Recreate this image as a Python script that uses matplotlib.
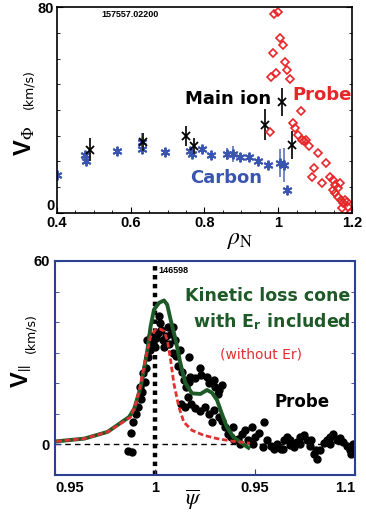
import numpy as np
import matplotlib
matplotlib.use("Agg")
from matplotlib import pyplot as plt

plt.rcParams["font.family"] = ["Liberation Sans", "DejaVu Sans"]
plt.rcParams["mathtext.fontset"] = "stix"

# ---- top panel: toroidal rotation vs rho ----
carbon_rho = [0.399, 0.476, 0.480, 0.562, 0.630, 0.630, 0.693, 0.761, 0.765, 0.792,
              0.819, 0.860, 0.878, 0.896, 0.922, 0.946, 0.973, 1.005, 1.016, 1.023]
carbon_v = [14.8, 22.5, 20.2, 24.2, 24.7, 27.7, 23.8, 24.2, 22.9, 24.9,
            22.5, 22.9, 22.9, 21.9, 21.6, 20.2, 18.6, 19.3, 18.6, 8.9]
carbon_err = [0, 0, 0, 0, 0, 3.2, 0, 0, 0, 0,
              0, 2.5, 3.2, 0, 0, 0, 0, 5.5, 6.5, 0]

ion_rho = [0.489, 0.634, 0.750, 0.772, 0.964, 1.009, 1.038]
ion_v = [24.5, 27.7, 29.9, 26.1, 34.2, 43.0, 26.4]
ion_err = [4.5, 3.5, 4.0, 3.0, 6.0, 5.5, 5.5]

probe_rho = [0.988, 1.000, 1.005, 1.012, 0.985, 1.018, 1.025, 0.980, 0.994, 1.032,
             1.061, 1.039, 1.045, 0.978, 1.054, 1.064, 1.070, 1.075, 1.083, 1.109,
             1.129, 1.098, 1.091, 1.118, 1.140, 1.148, 1.154, 1.167, 1.149, 1.154,
             1.163, 1.169, 1.176, 1.186, 1.190, 1.174, 1.195, 1.181, 1.161]
probe_v = [77.2, 77.9, 67.8, 65.2, 62.3, 58.8, 55.5, 52.9, 54.2, 51.9,
           39.6, 34.8, 33.1, 31.6, 30.3, 28.3, 28.1, 28.3, 26.1, 23.4,
           19.5, 17.6, 14.1, 11.5, 14.1, 12.8, 10.9, 11.5, 8.9, 7.6,
           6.3, 5.0, 3.8, 4.4, 2.4, 1.8, 0.0, 5.0, 9.6]

# ---- bottom panel: parallel flow vs psi ----
model_psi = [0.9507, 0.9647, 0.9763, 0.9871, 0.9896, 0.9929, 0.9962, 0.9978, 0.9995, 1.0020,
             1.0045, 1.0061, 1.0078, 1.0103, 1.0127, 1.0152, 1.0185, 1.0227, 1.0260, 1.0285,
             1.0310, 1.0334, 1.0359, 1.0392, 1.0425, 1.0467]
model_er = [1.0, 1.9, 4.1, 9.0, 11.7, 18.9, 30.9, 38.6, 44.1, 46.3,
            47.1, 45.7, 40.8, 34.2, 26.5, 20.0, 16.7, 16.5, 17.8, 16.9,
            14.5, 10.1, 5.7, 2.4, 0.8, -1.1]

noer_psi = [0.9507, 0.9647, 0.9763, 0.9879, 0.9904, 0.9929, 0.9954, 0.9978, 1.0003, 1.0028,
            1.0045, 1.0061, 1.0078, 1.0094, 1.0119, 1.0144, 1.0185, 1.0243, 1.0310, 1.0392,
            1.0475]
noer_v = [1.0, 1.9, 4.1, 9.0, 13.4, 20.0, 28.7, 35.3, 37.5, 37.7,
          37.0, 34.2, 27.6, 20.0, 12.3, 7.3, 4.6, 3.0, 1.9, 1.0,
          0.4]

dots_psi = [0.98626, 0.98825, 0.98791, 0.98924, 0.99040, 0.99156, 0.99288, 0.99371, 0.99255, 0.99487,
            0.99421, 0.99570, 0.99652, 0.99735, 0.99619, 0.99818, 0.99901, 0.99983, 1.00066, 1.00149,
            1.00182, 1.00248, 1.00315, 1.00381, 1.00464, 1.00546, 1.00629, 1.00712, 1.00811, 1.00894,
            1.00977, 1.01060, 1.01142, 1.01225, 1.01358, 1.01474, 1.01573, 1.01639, 1.01722, 1.01771,
            1.01705, 1.02020, 1.02235, 1.02301, 1.02599, 1.02715, 1.02930, 1.03013, 1.03179, 1.03344,
            1.03129, 1.01275, 1.01523, 1.01805, 1.02020, 1.02268, 1.02517, 1.02715, 1.02930, 1.03179,
            1.03344, 1.02848, 1.03510, 1.03626, 1.03791, 1.03957, 1.04172, 1.04338, 1.04503, 1.04669,
            1.04834, 1.05000, 1.05215, 1.05447, 1.05579, 1.05778, 1.05944, 1.06109, 1.06275, 1.06440,
            1.06606, 1.06772, 1.06937, 1.07103, 1.07268, 1.07434, 1.07599, 1.07765, 1.07930, 1.08096,
            1.08262, 1.08427, 1.08593, 1.08758, 1.08924, 1.09089, 1.09255, 1.09421, 1.09586, 1.09752,
            1.09884, 1.09818, 1.08030, 1.03924, 1.04255, 1.04917, 1.05414, 1.06407, 1.06738, 1.07235,
            1.07815, 1.08725, 1.00877]
dots_v = [-2.19, -2.63, 3.73, 7.35, 9.87, 12.29, 14.70, 17.22, 18.87, 20.51,
          23.25, 24.90, 28.74, 30.93, 34.22, 35.54, 33.13, 31.81, 34.77, 36.42,
          42.12, 39.71, 37.51, 34.22, 31.81, 35.32, 38.39, 32.91, 36.20, 30.06,
          34.22, 28.96, 25.67, 30.93, 23.80, 21.06, 18.87, 15.58, 28.74, 22.16,
          20.51, 21.61, 24.90, 22.71, 22.16, 19.96, 21.06, 18.87, 17.77, 19.41,
          16.45, 13.38, 12.29, 13.38, 12.07, 10.97, 12.29, 10.09, 11.19, 8.99,
          7.68, 7.35, 5.70, 3.51, 2.41, 1.32, 1.86, 3.29, 4.61, 1.32,
          5.70, 2.41, 3.73, 7.35, 1.32, -0.66, -1.43, 0.22, -1.43, 1.32,
          2.41, 1.32, -0.88, 0.77, 2.41, 2.96, 1.32, -0.66, -3.07, -4.72,
          -1.76, 0.44, 1.32, 2.41, 3.29, 1.32, 2.19, 0.77, -0.66, -1.97,
          0.00, -3.07, -1.97, 5.70, 0.22, 0.00, -0.88, -1.43, -0.33, 0.22,
          1.32, 0.22, 38.39]

psi_ticks = [0.95, 1.0, 1.05, 1.1]
psi_labels = ["0.95", "1", "0.95", "1.1"]

RED = "#e8262a"
BLUE = "#3a55b0"
GREEN = "#1e5a28"
NAVY = "#2e3f8f"

fig = plt.figure(figsize=(3.66, 5.12), dpi=100)

# top panel
ax1 = fig.add_axes([0.1557, 0.584, 0.806, 0.4023])
ax1.errorbar(carbon_rho, carbon_v, yerr=carbon_err, fmt="none", ecolor=BLUE, elinewidth=1.4, alpha=0.7)
ax1.plot(carbon_rho, carbon_v, ls="none", marker=(6, 2, 0), ms=7, mew=1.4, color=BLUE)
ax1.errorbar(ion_rho, ion_v, yerr=ion_err, fmt="none", ecolor="#222222", elinewidth=1.4)
ax1.plot(ion_rho, ion_v, ls="none", marker="x", ms=6, mew=1.3, color="black")
ax1.plot(probe_rho, probe_v, ls="none", marker="D", ms=4.2, mfc="none", mec=RED, mew=1.2)
ax1.set_xlim(0.4, 1.2)
ax1.set_ylim(0, 80)
ax1.set_xticks([0.4, 0.6, 0.8, 1.0, 1.2])
ax1.set_xticklabels(["0.4", "0.6", "0.8", "1", "1.2"])
ax1.set_xticks(np.arange(0.4, 1.2, 0.05), minor=True)
ax1.set_yticks([0, 80])
ax1.set_yticks(np.arange(0, 81, 10), minor=True)
ax1.tick_params(which="both", direction="in", right=True, top=False, labelsize=10.5, pad=2)
ax1.tick_params(which="major", length=4)
ax1.tick_params(which="minor", length=2.5)
for lab in ax1.get_xticklabels() + ax1.get_yticklabels():
    lab.set_fontweight("bold")
ax1.get_yticklabels()[0].set_verticalalignment("bottom")
for sp in ax1.spines.values():
    sp.set_linewidth(1.2)

ax1.text(0.15, 0.965, "157557.02200", transform=ax1.transAxes, fontsize=6.5,
         fontweight="bold", ha="left", va="center")
ax1.text(0.58, 0.553, "Main ion", transform=ax1.transAxes, fontsize=13,
         fontweight="bold", ha="center", va="center", family=["DejaVu Sans"])
ax1.text(1.0, 0.573, "Probe", transform=ax1.transAxes, fontsize=13, color=RED,
         fontweight="bold", ha="right", va="center", family=["DejaVu Sans"])
ax1.text(0.574, 0.17, "Carbon", transform=ax1.transAxes, fontsize=13, color=BLUE,
         fontweight="bold", ha="center", va="center", family=["DejaVu Sans"])
ax1.text(-0.11, 0.35, r"V$_{\Phi}$", transform=ax1.transAxes, fontsize=17, fontweight="bold",
         rotation=90, ha="center", va="center", family=["Liberation Sans"])
ax1.text(-0.095, 0.6, "(km/s)", transform=ax1.transAxes, fontsize=9,
         rotation=90, ha="center", va="center", family=["DejaVu Sans"])
ax1.text(0.62, -0.13, r"$\rho_{\mathrm{N}}$", transform=ax1.transAxes, fontsize=17,
         ha="center", va="center")

# bottom panel
ax2 = fig.add_axes([0.1503, 0.0723, 0.8197, 0.418])
ax2.axhline(0, color="black", ls=(0, (4, 3)), lw=1.0, zorder=1)
ax2.axvline(1.0, color="black", ls=(0, (1, 1)), lw=3.2, zorder=1)
ax2.plot(dots_psi, dots_v, ls="none", marker="o", ms=5, color="black", zorder=2)
ax2.plot(model_psi, model_er, color=GREEN, lw=2.8, zorder=3)
ax2.plot(noer_psi, noer_v, color="#e03030", lw=2.0, ls=(0, (2, 1)), zorder=4)
ax2.set_xlim(0.95, 1.1)
ax2.set_ylim(-10, 60)
ax2.set_xticks(psi_ticks)
ax2.set_xticklabels(psi_labels)
ax2.set_yticks([0, 60])
ax2.set_yticks(np.arange(-10, 61, 10), minor=True)
ax2.tick_params(which="both", direction="in", right=True, top=False, labelsize=10.5,
                color=NAVY, pad=4)
ax2.tick_params(which="major", length=4)
ax2.tick_params(which="minor", length=3)
labs = ax2.get_xticklabels()
labs[0].set_horizontalalignment("left")
labs[-1].set_horizontalalignment("right")
for lab in ax2.get_xticklabels() + ax2.get_yticklabels():
    lab.set_fontweight("bold")
for sp in ax2.spines.values():
    sp.set_linewidth(1.5)
    sp.set_color(NAVY)

ax2.text(0.345, 0.955, "146598", transform=ax2.transAxes, fontsize=6.5,
         fontweight="bold", ha="left", va="center")
ax2.text(0.985, 0.836, "Kinetic loss cone", transform=ax2.transAxes, fontsize=12.5,
         color=GREEN, fontweight="bold", ha="right", va="center", family=["DejaVu Sans"])
ax2.text(0.985, 0.718, r"with E$_\mathregular{r}$ included", transform=ax2.transAxes, fontsize=12.5,
         color=GREEN, fontweight="bold", ha="right", va="center", family=["DejaVu Sans"])
ax2.text(0.685, 0.563, "(without Er)", transform=ax2.transAxes, fontsize=10,
         color="#e03030", ha="center", va="center", family=["DejaVu Sans"])
ax2.text(0.917, 0.343, "Probe", transform=ax2.transAxes, fontsize=12,
         fontweight="bold", ha="right", va="center", family=["DejaVu Sans"])
ax2.text(-0.11, 0.46, r"V$_{||}$", transform=ax2.transAxes, fontsize=17, fontweight="bold",
         rotation=90, ha="center", va="center", family=["Liberation Sans"])
ax2.text(-0.08, 0.665, "(km/s)", transform=ax2.transAxes, fontsize=9,
         rotation=90, ha="center", va="center", family=["DejaVu Sans"])
ax2.text(0.46, -0.115, r"$\overline{\psi}$", transform=ax2.transAxes, fontsize=16,
         ha="center", va="center")

fig.savefig("out.png", dpi=100)
